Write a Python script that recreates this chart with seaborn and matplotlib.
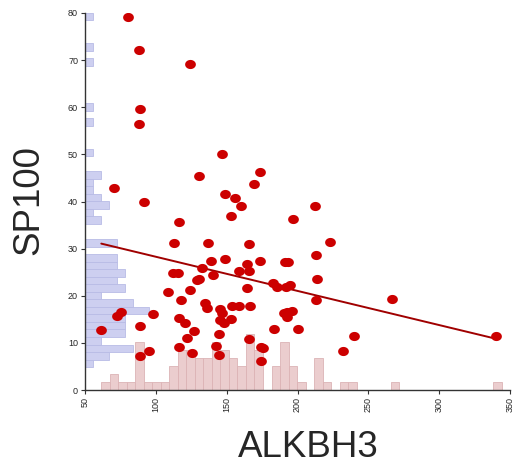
import numpy as np
import pandas as pd
import seaborn as sns
import matplotlib
matplotlib.use("Agg")
import matplotlib.pyplot as plt
from matplotlib.path import Path

# ---- data ----
alkbh3 = [80.6, 88.4, 124.1, 89.1, 88.4, 130.3, 70.7, 91.3, 116.1, 112.5,
          112.1, 115.3, 128.8, 130.6, 124.3, 108.5, 117.7, 75.7, 72.4, 98.3,
          116.7, 120.3, 61.5, 89.0, 127.2, 122.0, 116.7, 95.5, 88.9, 125.2,
          146.5, 148.6, 156.0, 160.0, 153.1, 173.8, 169.6, 137.0, 165.5, 139.1,
          148.6, 132.4, 140.5, 212.6, 196.7, 223.2, 212.8, 164.4, 165.8, 158.9,
          173.6, 191.0, 193.4, 164.0, 183.0, 185.2, 192.0, 194.8, 213.8, 212.8,
          134.4, 136.3, 145.3, 146.4, 145.3, 147.8, 144.3, 142.7, 144.6, 153.8,
          159.0, 166.3, 190.8, 192.7, 196.3, 192.3, 153.1, 183.3, 200.2, 165.9,
          174.3, 175.4, 174.3, 231.9, 239.6, 340.2, 266.6]
sp100 = [79.2, 72.1, 69.1, 59.6, 56.5, 45.4, 42.8, 39.9, 35.6, 31.2,
         24.9, 24.9, 23.4, 23.5, 21.3, 20.7, 19.1, 16.5, 15.7, 16.2,
         15.3, 14.3, 12.7, 13.5, 12.6, 11.1, 9.1, 8.2, 7.2, 7.9,
         50.1, 41.5, 40.8, 39.0, 37.0, 46.3, 43.8, 31.1, 31.0, 27.4,
         27.7, 25.9, 24.3, 39.0, 36.3, 31.3, 28.7, 26.7, 25.3, 25.2,
         27.3, 27.1, 27.1, 21.6, 22.6, 21.8, 21.8, 22.2, 23.5, 19.2,
         18.4, 17.5, 17.2, 16.3, 14.8, 14.2, 11.8, 9.3, 7.5, 17.9,
         17.9, 17.8, 16.4, 16.5, 16.7, 15.5, 15.1, 13.0, 13.0, 10.9,
         9.2, 9.0, 6.1, 8.2, 11.4, 11.4, 19.4]
n_bins = 47
x_hist_range = (61.3, 344.2)
y_hist_range = (4.84, 80.04)
x_ticks = [50, 100, 150, 200, 250, 300, 350]
y_ticks = [0, 10, 20, 30, 40, 50, 60, 70, 80]

df = pd.DataFrame({"ALKBH3": alkbh3, "SP100": sp100})

sns.set_style("ticks")
plt.rcParams["font.family"] = ["Liberation Sans", "DejaVu Sans"]

fig = plt.figure(figsize=(5.12, 4.67), dpi=100)
ax = fig.add_axes([85 / 512, 1 - 390 / 467, 425 / 512, 377 / 467])

# marginal histograms drawn inside the axes
xc, xe = np.histogram(df["ALKBH3"], bins=n_bins, range=x_hist_range)
yc, ye = np.histogram(df["SP100"], bins=n_bins, range=y_hist_range)
x_scale = 1.70   # y-units per count
y_scale = 5.66   # x-units per count
m = xc > 0
ax.bar(xe[:-1][m], xc[m] * x_scale, width=np.diff(xe)[m], align="edge",
       color="#ebcdce", edgecolor="#dcb3b5", linewidth=0.6, zorder=1)
m = yc > 0
ax.barh(ye[:-1][m], yc[m] * y_scale, height=np.diff(ye)[m], left=50, align="edge",
        color="#cdcff0", edgecolor="#b8bbe6", linewidth=0.6, zorder=1)

# ellipse marker (dots look slightly wider than tall)
t = np.linspace(0, 2 * np.pi, 40)
ell = Path(np.column_stack([np.cos(t), 0.85 * np.sin(t)]), closed=True)

sns.regplot(data=df, x="ALKBH3", y="SP100", ax=ax, ci=None, truncate=True,
            scatter=False, line_kws=dict(color="#a00000", lw=1.4, zorder=2))
sns.scatterplot(data=df, x="ALKBH3", y="SP100", ax=ax, marker=ell, s=60,
                color="#cc0000", edgecolor="#cc0000", linewidth=0, zorder=3)

ax.set_xlim(50, 350)
ax.set_ylim(0, 80)
ax.set_xticks(x_ticks)
ax.set_yticks(y_ticks)
ax.set_xticklabels([str(v) for v in x_ticks], rotation=90, fontsize=6.5)
ax.set_yticklabels([str(v) for v in y_ticks], fontsize=6.5)
ax.tick_params(length=3, width=0.8, color="#333333", pad=2)
for s in ["top", "right"]:
    ax.spines[s].set_visible(False)
for s in ["left", "bottom"]:
    ax.spines[s].set_color("#333333")
    ax.spines[s].set_linewidth(1.0)

ax.set_xlabel("ALKBH3", fontsize=26.5)
ax.set_ylabel("SP100", fontsize=26.5)
ax.xaxis.set_label_coords(0.525, -0.105)
ax.yaxis.set_label_coords(-0.09, 0.504)

fig.savefig("out.png", dpi=100)
